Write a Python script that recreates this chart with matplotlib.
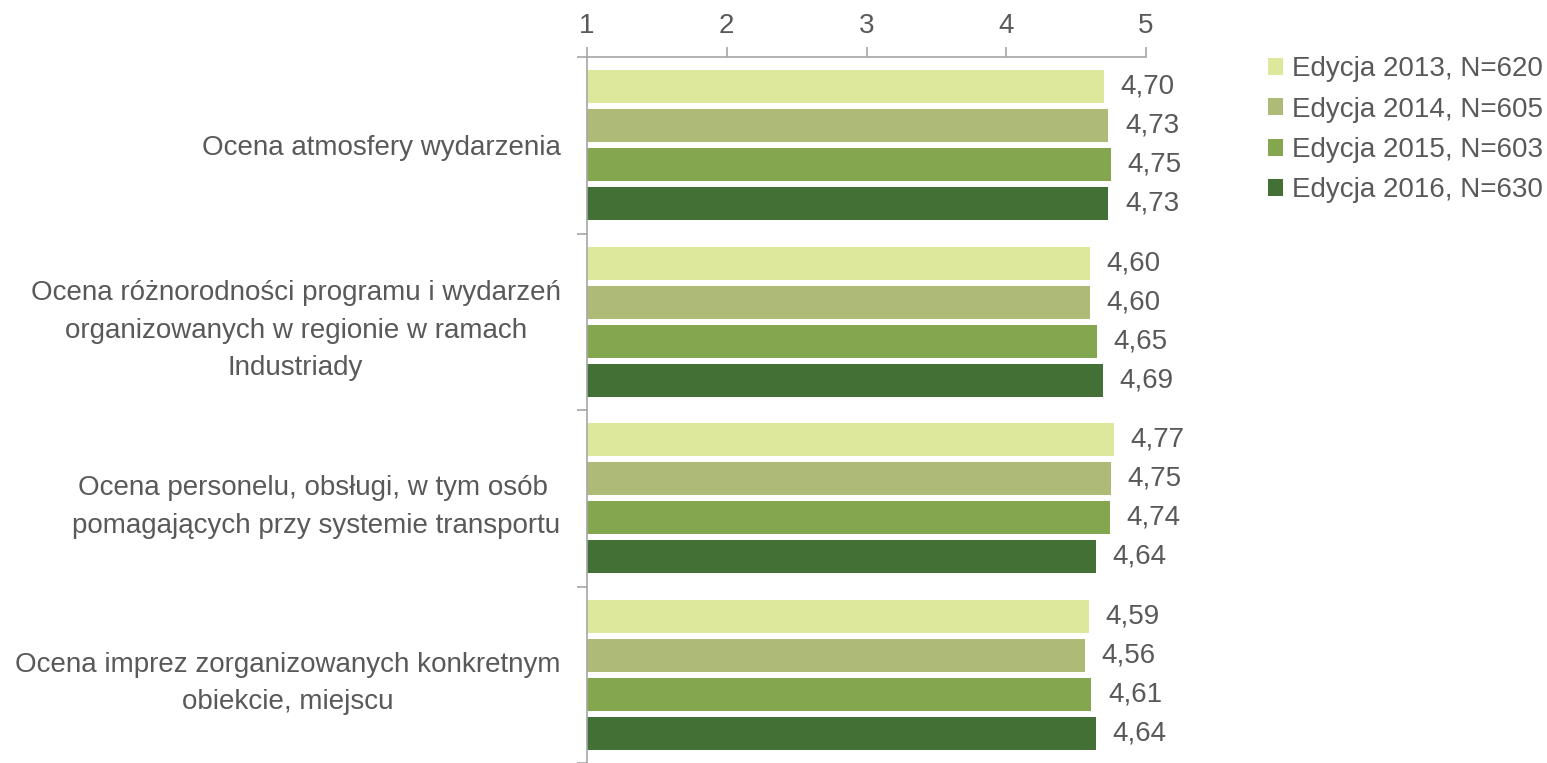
import matplotlib.pyplot as plt
import numpy as np

categories = [
    'Ocena atmosfery wydarzenia',
    'Ocena różnorodności programu i wydarzeń\norganizowanych w regionie w ramach\nIndustriady',
    'Ocena personelu, obsługi, w tym osób \npomagających przy systemie transportu',
    'Ocena imprez zorganizowanych konkretnym\nobiekcie, miejscu',
]
series = ['Edycja 2013, N=620', 'Edycja 2014, N=605',
          'Edycja 2015, N=603', 'Edycja 2016, N=630']
ed2013 = [4.70, 4.60, 4.77, 4.59]
ed2014 = [4.73, 4.60, 4.75, 4.56]
ed2015 = [4.75, 4.65, 4.74, 4.61]
ed2016 = [4.73, 4.69, 4.64, 4.64]
values = [ed2013, ed2014, ed2015, ed2016]
colors = ['#dde89c', '#aebb77', '#84a64e', '#437135']
text_color = '#595959'
axis_color = '#a6a6a6'

plt.rcParams['font.family'] = ['Liberation Sans', 'DejaVu Sans']
fs = 20

fig = plt.figure(figsize=(15.47, 7.63), dpi=100)
ax = fig.add_axes([587 / 1547, 0.0, (1146 - 587) / 1547, 1 - 57 / 763])

pitch = 39 / 177
height = 33 / 177
y = np.arange(len(categories))
for i, (vals, col, name) in enumerate(zip(values, colors, series)):
    pos = y + (i - 1.5) * pitch
    ax.barh(pos, np.array(vals) - 1, left=1, height=height, color=col, label=name)
    for p, v in zip(pos, vals):
        ax.text(v + 0.12, p, f'{v:.2f}'.replace('.', ','), va='center', ha='left',
                fontsize=fs, color=text_color)

ax.set_xlim(1, 5)
ax.set_ylim(3.49, -0.5)
ax.xaxis.tick_top()
ax.set_xticks([1, 2, 3, 4, 5])
ax.tick_params(axis='x', colors=axis_color, labelcolor=text_color, labelsize=fs,
               length=7, width=1.2, pad=6)
ax.set_yticks(np.arange(-0.5, 3.6, 1.0))
ax.set_yticklabels([])
ax.set_yticks(y, minor=True)
ax.set_yticklabels(categories, minor=True, fontsize=fs, color=text_color,
                   multialignment='center', linespacing=1.58)
ax.tick_params(axis='y', which='major', colors=axis_color, length=7, width=1.2)
ax.tick_params(axis='y', which='minor', length=0, pad=19)
for s in ['right', 'bottom']:
    ax.spines[s].set_visible(False)
for s in ['left', 'top']:
    ax.spines[s].set_color(axis_color)
    ax.spines[s].set_linewidth(1.2)

leg = fig.legend(loc='upper left', bbox_to_anchor=(1257 / 1547, 1 - 45 / 763),
                 frameon=False, fontsize=fs, handlelength=0.55, handleheight=0.55,
                 handletextpad=0.3, labelspacing=0.52, borderaxespad=0)
for t in leg.get_texts():
    t.set_color(text_color)

fig.savefig('out.png', dpi=100)
